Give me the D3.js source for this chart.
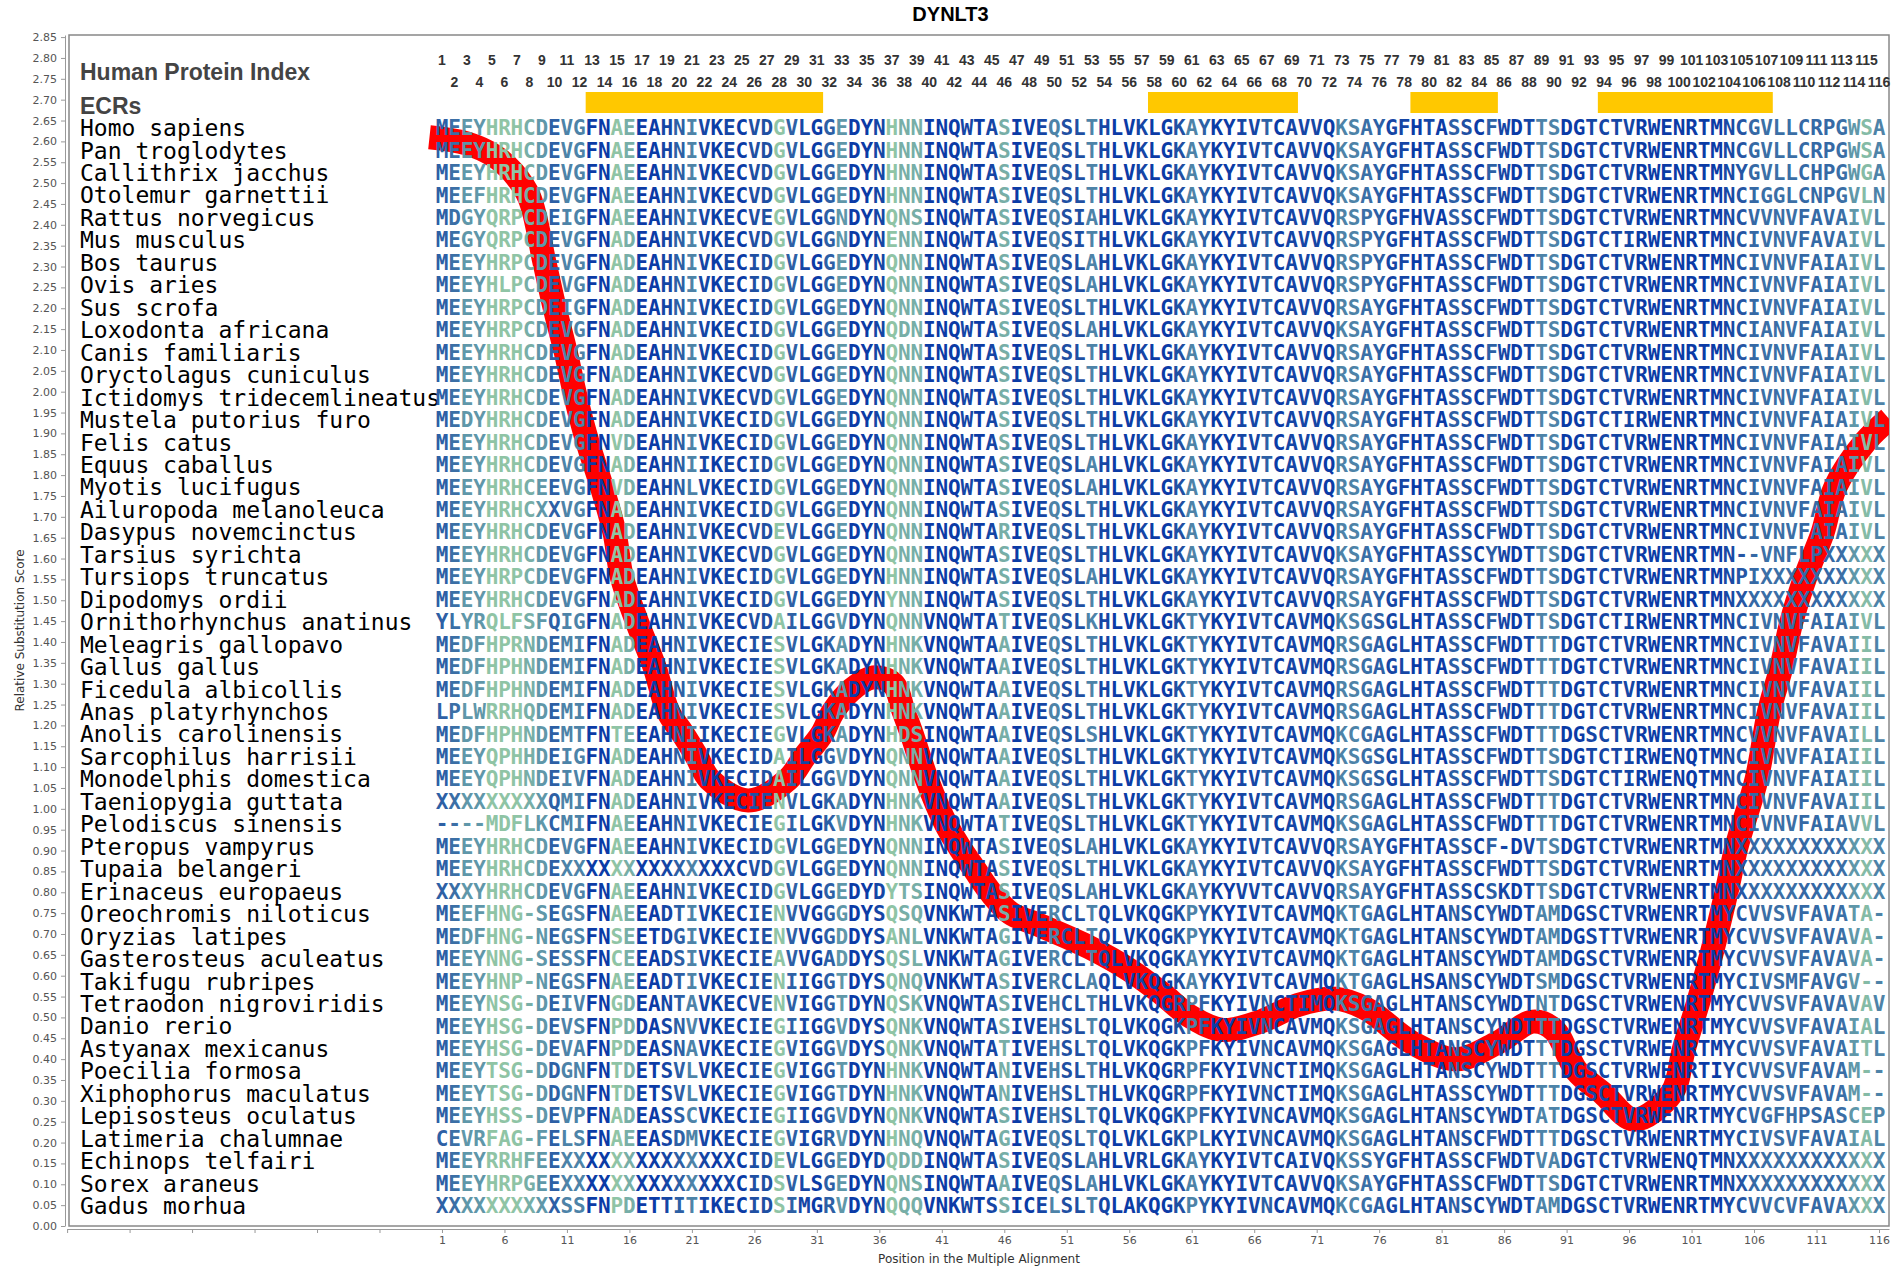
<!DOCTYPE html>
<html>
<head>
<meta charset="utf-8">
<script src="https://cdn.jsdelivr.net/npm/d3@7"></script>
<style>
  body { margin: 0; background: #fff; }
</style>
</head>
<body>
<svg id="chart"></svg>
<script>
// Species (rows, top to bottom)
const species = [
  "Homo sapiens", "Pan troglodytes", "Callithrix jacchus", "Otolemur garnettii",
  "Rattus norvegicus", "Mus musculus", "Bos taurus", "Ovis aries", "Sus scrofa",
  "Loxodonta africana", "Canis familiaris", "Oryctolagus cuniculus",
  "Ictidomys tridecemlineatus", "Mustela putorius furo", "Felis catus",
  "Equus caballus", "Myotis lucifugus", "Ailuropoda melanoleuca",
  "Dasypus novemcinctus", "Tarsius syrichta", "Tursiops truncatus",
  "Dipodomys ordii", "Ornithorhynchus anatinus", "Meleagris gallopavo",
  "Gallus gallus", "Ficedula albicollis", "Anas platyrhynchos",
  "Anolis carolinensis", "Sarcophilus harrisii", "Monodelphis domestica",
  "Taeniopygia guttata", "Pelodiscus sinensis", "Pteropus vampyrus",
  "Tupaia belangeri", "Erinaceus europaeus", "Oreochromis niloticus",
  "Oryzias latipes", "Gasterosteus aculeatus", "Takifugu rubripes",
  "Tetraodon nigroviridis", "Danio rerio", "Astyanax mexicanus",
  "Poecilia formosa", "Xiphophorus maculatus", "Lepisosteus oculatus",
  "Latimeria chalumnae", "Echinops telfairi", "Sorex araneus", "Gadus morhua"
];

// Aligned sequences, 116 columns each
const sequences = [
  "MEEYHRHCDEVGFNAEEAHNIVKECVDGVLGGEDYNHNNINQWTASIVEQSLTHLVKLGKAYKYIVTCAVVQKSAYGFHTASSCFWDTTSDGTCTVRWENRTMNCGVLLCRPGWSA",
  "MEEYHRHCDEVGFNAEEAHNIVKECVDGVLGGEDYNHNNINQWTASIVEQSLTHLVKLGKAYKYIVTCAVVQKSAYGFHTASSCFWDTTSDGTCTVRWENRTMNCGVLLCRPGWSA",
  "MEEYHRHCDEVGFNAEEAHNIVKECVDGVLGGEDYNHNNINQWTASIVEQSLTHLVKLGKAYKYIVTCAVVQKSAYGFHTASSCFWDTTSDGTCTVRWENRTMNYGVLLCHPGWGA",
  "MEEFHRHCDEVGFNAEEAHNIVKECVDGVLGGEDYNHNNINQWTASIVEQSLTHLVKLGKAYKYIVTCAVVQKSAYGFHTASSCFWDTTSDGTCTVRWENRTMNCIGGLCNPGVLN",
  "MDGYQRPCDEIGFNAEEAHNIVKECVEGVLGGNDYNQNSINQWTASIVEQSIAHLVKLGKAYKYIVTCAVVQRSPYGFHVASSCFWDTTSDGTCTVRWENRTMNCVVNVFAVAIVL",
  "MEGYQRPCDEVGFNADEAHNIVKECVDGVLGGNDYNENNINQWTASIVEQSITHLVKLGKAYKYIVTCAVVQRSPYGFHTASSCFWDTTSDGTCTIRWENRTMNCIVNVFAVAIVL",
  "MEEYHRPCDEVGFNADEAHNIVKECIDGVLGGEDYNQNNINQWTASIVEQSLAHLVKLGKAYKYIVTCAVVQRSPYGFHTASSCFWDTTSDGTCTVRWENRTMNCIVNVFAIAIVL",
  "MEEYHLPCDEVGFNADEAHNIVKECIDGVLGGEDYNQNNINQWTASIVEQSLAHLVKLGKAYKYIVTCAVVQRSPYGFHTASSCFWDTTSDGTCTVRWENRTMNCIVNVFAIAIVL",
  "MEEYHRPCDEIGFNADEAHNIVKECIDGVLGGEDYNQNNINQWTASIVEQSLTHLVKLGKAYKYIVTCAVVQRSAYGFHTASSCFWDTTSDGTCTVRWENRTMNCIVNVFAIAIVL",
  "MEEYHRPCDEVGFNADEAHNIVKECIDGVLGGEDYNQDNINQWTASIVEQSLAHLVKLGKAYKYIVTCAVVQKSAYGFHTASSCFWDTTSDGTCTVRWENRTMNCIANVFAIAIVL",
  "MEEYHRHCDEVGFNADEAHNIVKECIDGVLGGEDYNQNNINQWTASIVEQSLTHLVKLGKAYKYIVTCAVVQRSAYGFHTASSCFWDTTSDGTCTVRWENRTMNCIVNVFAIAIVL",
  "MEEYHRHCDEVGFNADEAHNIVKECVDGVLGGEDYNQNNINQWTASIVEQSLTHLVKLGKAYKYIVTCAVVQRSAYGFHTASSCFWDTTSDGTCTVRWENRTMNCIVNVFAIAIVL",
  "MEEYHRHCDEVGFNADEAHNIVKECVDGVLGGEDYNQNNINQWTASIVEQSLTHLVKLGKAYKYIVTCAVVQRSAYGFHTASSCFWDTTSDGTCTVRWENRTMNCIVNVFAIAIVL",
  "MEDYHRHCDEVGFNADEAHNIVKECIDGVLGGEDYNQNNINQWTASIVEQSLTHLVKLGKAYKYIVTCAVVQRSAYGFHTASSCFWDTTSDGTCTIRWENRTMNCIVNVFAIAIVL",
  "MEEYHRHCDEVGFNVDEAHNIVKECIDGVLGGEDYNQNNINQWTASIVEQSLTHLVKLGKAYKYIVTCAVVQRSAYGFHTASSCFWDTTSDGTCTVRWENRTMNCIVNVFAIAIVL",
  "MEEYHRHCDEVGFNADEAHNIIKECIDGVLGGEDYNQNNINQWTASIVEQSLAHLVKLGKAYKYIVTCAVVQRSAYGFHTASSCFWDTTSDGTCTVRWENRTMNCIVNVFAIAIVL",
  "MEEYHRHCEEVGFNVDEAHNLVKECIDGVLGGEDYNQNNINQWTASIVEQSLAHLVKLGKAYKYIVTCAVVQRSAYGFHTASSCFWDTTSDGTCTVRWENRTMNCIVNVFAIAIVL",
  "MEEYHRHCXXVGFNADEAHNIVKECIDGVLGGEDYNQNNINQWTASIVEQSLTHLVKLGKAYKYIVTCAVVQRSAYGFHTASSCFWDTTSDGTCTVRWENRTMNCIVNVFAIAIVL",
  "MEEYHRHCDEVGFNADEAHNIVKECVDEVLGGEDYNQNNINQWTARIVEQSLTHLVKLGKAYKYIVTCAVVQRSAYGFHTASSCFWDTTSDGTCTVRWENRTMNCIVNVFAIAIVL",
  "MEEYHRHCDEVGFNADEAHNIVKECVDGVLGGEDYNQNNINQWTASIVEQSLTHLVKLGKAYKYIVTCAVVQKSAYGFHTASSCYWDTTSDGTCTVRWENRTMN--VNFLPXXXXX",
  "MEEYHRPCDEVGFNADEAHNIVKECIDGVLGGEDYNHNNINQWTASIVEQSLAHLVKLGKAYKYIVTCAVVQRSAYGFHTASSCFWDTTSDGTCTVRWENRTMNPIXXXXXXXXXX",
  "MEEYHRHCDEVGFNADEAHNIVKECIDGVLGGEDYNYNNINQWTASIVEQSLTHLVKLGKAYKYIVTCAVVQRSAYGFHTASSCFWDTTSDGTCTVRWENRTMNXXXXXXXXXXXX",
  "YLYRQLFSFQIGFNADEAHNIVKECVDAILGGVDYNQNNVNQWTATIVEQSLKHLVKLGKTYKYIVTCAVMQKSGSGLHTASSCFWDTTSDGTCTIRWENRTMNCIVNVFAIAIVL",
  "MEDFHPRNDEMIFNADEAHNIVKECIESVLGKADYNHNKVNQWTAAIVEQSLTHLVKLGKTYKYIVTCAVMQRSGAGLHTASSCFWDTTTDGTCTVRWENRTMNCIVNVFAVAIIL",
  "MEDFHPHNDEMIFNADEAHNIVKECIESVLGKADYNHNKVNQWTAAIVEQSLTHLVKLGKTYKYIVTCAVMQRSGAGLHTASSCFWDTTTDGTCTVRWENRTMNCIVNVFAVAIIL",
  "MEDFHPHNDEMIFNADEAHNIVKECIESVLGKADYNHNKVNQWTAAIVEQSLTHLVKLGKTYKYIVTCAVMQRSGAGLHTASSCFWDTTTDGTCTVRWENRTMNCIVNVFAVAIIL",
  "LPLWRRHQDEMIFNADEAHNIVKECIESVLGKADYNHNKVNQWTAAIVEQSLTHLVKLGKTYKYIVTCAVMQRSGAGLHTASSCFWDTTTDGTCTVRWENRTMNCIVNVFAVAIIL",
  "MEDFHPHNDEMTFNTEEAHNIIKECIEGVLGKADYNHDSINQWTAAIVEQSLSHLVKLGKTYKYIVTCAVMQKCGAGLHTASSCFWDTTTDGSCTVRWENRTMNCVVNVFAVAILL",
  "MEEYQPHHDEIGFNADEAHNIVKECIDAILGGVDYNQNNVNQWTAAIVEQSLTHLVKLGKTYKYIVTCAVMQKSGSGLHTASSCFWDTTSDGTCTIRWENQTMNCIVNVFAIAIIL",
  "MEEYQPHNDEIVFNADEAHNIVKECIDAILGGVDYNQNNVNQWTAAIVEQSLTHLVKLGKTYKYIVTCAVMQKSGSGLHTASSCFWDTTSDGTCTIRWENQTMNCIVNVFAIAIIL",
  "XXXXXXXXXQMIFNADEAHNIVKECIENVLGKADYNHNKVNQWTAAIVEQSLTHLVKLGKTYKYIVTCAVMQRSGAGLHTASSCFWDTTTDGTCTVRWENRTMNCIVNVFAVAIIL",
  "----MDFLKCMIFNAEEAHNIVKECIEGILGKVDYNHNKVNQWTATIVEQSLTHLVKLGKTYKYIVTCAVMQKSGAGLHTASSCFWDTTTDGTCTVRWENRTMNCIVNVFAIAVVL",
  "MEEYHRHCDEVGFNAEEAHNIVKECIDGVLGGEDYNQNNINQWTASIVEQSLAHLVKLGKAYKYIVTCAVVQRSAYGFHTASSCF-DVTSDGTCTVRWENRTMNXXXXXXXXXXXX",
  "MEEYHRHCDEXXXXXXXXXXXXXXCVDGVLGGEDYNQNNINQWTASIVEQSLTHLVKLGKAYKYIVTCAVVQKSAYGFHTASSCFWDTTSDGTCTVRWENRTMNXXXXXXXXXXXX",
  "XXXYHRHCDEVGFNAEEAHNIVKECIDGVLGGEDYDYTSINQWTASIVEQSLAHLVKLGKAYKYVVTCAVVQRSAYGFHTASSCSKDTTSDGTCTVRWENRTMNXXXXXXXXXXXX",
  "MEEFHNG-SEGSFNAEEADTIVKECIENVVGGGDYSQSQVNKWTASIVERCLTQLVKQGKPYKYIVTCAVMQKTGAGLHTANSCYWDTAMDGSCTVRWENRTMYCVVSVFAVATA-",
  "MEDFHNG-NEGSFNSEETDGIVKECIENVVGGDDYSANLVNKWTAGIVERCLTQLVKQGKPYKYIVTCAVMQKTGAGLHTANSCYWDTAMDGSTTVRWENRTMYCVVSVFAVAVA-",
  "MEEYNNG-SESSFNCEEADSIVKECIEAVVGADDYSQSLVNKWTAGIVERCLTQLVKQGKAYKYIVTCAVMQKTGAGLHTANSCYWDTAMDGSCTVRWENRTMYCVVSVFAVAVA-",
  "MEEYHNP-NEGSFNAEEADTIVKECIENIIGGTDYSQNQVNKWTASIVERCLAQLVKQGKAYKYIVTCAVMQKTGAGLHSANSCYWDTSMDGSCTVRWENRTMYCIVSMFAVGV--",
  "MEEYNSG-DEIVFNGDEANTAVKECVENVIGGTDYNQSKVNQWTASIVEHCLTHLVKQGRPFKYIVNCTIMQKSGAGLHTANSCYWDTNTDGSCTVRWENRTMYCVVSVFAVAVAV",
  "MEEYHSG-DEVSFNPDDASNVVKECIEGIIGGVDYSQNKVNQWTASIVEHSLTQLVKQGKPFKYIVNCAVMQKSGAGLHTANSCYWDTTTDGSCTVRWENRTMYCVVSVFAVAIAL",
  "MEEYHSG-DEVAFNPDEASNAVKECIEGVIGGVDYSQNKVNQWTATIVEHSLTQLVKQGKPFKYIVNCAVMQKSGAGLHTANSCYWDTTTDGSCTVRWENRTMYCVVSVFAVAITL",
  "MEEYTSG-DDGNFNTDETSVLVKECIEGVIGGTDYNHNKVNQWTANIVEHSLTHLVKQGRPFKYIVNCTIMQKSGAGLHTANSCYWDTTTDGSCTVRWENRTIYCVVSVFAVAM--",
  "MEEYTSG-DDGNFNTDETSVLVKECIEGVIGGTDYNHNKVNQWTANIVEHSLTHLVKQGRPFKYIVNCTIMQKSGAGLHTASSCYWDTTTDGSCTVRWENRTMYCVVSVFAVAM--",
  "MEEYHSS-DEVPFNADEASSCVKECIEGIIGGVDYNQNKVNQWTASIVEHSLTQLVKQGKPFKYIVNCAVMQKSGAGLHTANSCYWDTATDGSCTVRWENRTMYCVGFHPSASCEP",
  "CEVRFAG-FELSFNAEEASDMVKECIEGVIGRVDYNHNQVNQWTAGIVEQSLTQLVKLGKPLKYIVNCAVMQKSGAGLHTANSCFWDTTTDGSCTVRWENRTMYCIVSVFAVAIAL",
  "MEEYRRHFEEXXXXXXXXXXXXXXCIDEVLGGEDYDQDDINQWTASIVEQSLAHLVRLGKAYKYIVTCAIVQKSSYGFHTASSCFWDTVADGTCTVRWENQTMNXXXXXXXXXXXX",
  "MEEYHRPGEEXXXXXXXXXXXXXXCIDSVLSGEDYNQNSINQWTAAIVEQSLAHLVKLGKAYKYIVTCAVVQKSAYGFHTASSCFWDTTSDGTCTVRWENRTMNXXXXXXXXXXXX",
  "XXXXXXXXXXSSFNPDETTITIKECIDSIMGRVDYNQQQVNKWTSSICELSLTQLAKQGKPYKYIVNCAVMQKCGAGLHTANSCYWDTAMDGSCTVRWENRTMYCVVCVFAVAXXX"
];

// Column conservation shade (0 = most conserved ... 4 = least), columns 1..116
const conservation = [
  1.5, 2, 3, 3, 4, 4, 4, 3.5, 3, 1.5,
  2.5, 2.5, 0, 0, 4, 3.5, 0, 0, 0.5, 1.5,
  2.5, 0.5, 0, 0.5, 0, 1, 1, 4, 1.5, 0.5,
  0, 1.5, 3, 0, 0, 0.5, 4, 3.5, 3.5, 0,
  0, 0, 0.5, 0, 0.5, 3.5, 0, 0, 0.5, 2.5,
  1, 1, 2.5, 0.5, 0, 0, 0.5, 0, 0, 1,
  2.5, 1.5, 0, 0, 0.5, 0.5, 1.5, 0, 0.5, 0.5,
  0.5, 0, 2.5, 2.5, 2, 1.5, 0.5, 0.5, 0, 0.5,
  0, 1.5, 1, 0, 1.5, 0.5, 0, 0.5, 2.5, 2.5,
  0, 0, 0.5, 0.5, 0.5, 0.5, 0, 0, 0, 0,
  0, 0, 0, 0.7, 1.2, 1.8, 2, 2, 2, 1.8,
  1.8, 1.8, 2, 3, 3.8, 2.5
];

// Evolutionarily conserved regions [first, last] position
const ecrStart = [13, 58, 79, 94];
const ecrEnd = [31, 69, 85, 107];

// Relative substitution score curve (alignment position, score)
const scorePos = [0, 3, 5.2, 6.7, 8.0, 9.2, 10.0, 10.9, 11.7, 12.65, 13.8, 14.8, 15.4, 16.6, 18.0, 19.1,
  20.3, 21.4, 22.4, 25.5, 28.7, 30.0, 31.4, 32.3, 33.8, 35.5, 37.1, 37.95, 38.6, 39.8, 41.3, 42.4,
  43.6, 44.9, 46.5, 48.9, 52.8, 56, 58.5, 61.0, 63.5, 66.5, 69.5, 72.5, 75, 78.6, 82.2, 85.5,
  88.3, 90, 91.8, 93.9, 96.4, 99.4, 100.4, 101.5, 102.5, 103.8, 104.6, 106.2, 107.2, 108.2,
  109.0, 110.1, 111.5, 112.5, 114.9, 116.8];
const scoreVal = [2.61, 2.595, 2.565, 2.525, 2.465, 2.31, 2.203, 2.095, 1.987, 1.879, 1.771, 1.663, 1.555, 1.449, 1.341, 1.233,
  1.179, 1.125, 1.071, 1.02, 1.071, 1.125, 1.179, 1.233, 1.286, 1.315, 1.30, 1.233, 1.179, 1.071, 0.965, 0.909,
  0.856, 0.80, 0.75, 0.72, 0.668, 0.614, 0.56, 0.5, 0.47, 0.49, 0.53, 0.545, 0.52, 0.44, 0.40, 0.44,
  0.49, 0.47, 0.372, 0.318, 0.255, 0.318, 0.426, 0.533, 0.641, 0.801, 0.909, 1.071, 1.233, 1.341,
  1.449, 1.555, 1.663, 1.771, 1.88, 1.935];

const W = 1901, H = 1275;
const plot = { left: 69, right: 1889, top: 35, bottom: 1226 };

const svg = d3.select("#chart").attr("width", W).attr("height", H);

const x = d3.scaleLinear().domain([-29, 116.8]).range([67.1, plot.right]);
const y = d3.scaleLinear().domain([0, 2.855]).range([plot.bottom, plot.top]);
const row = d3.scalePoint().domain(species).range([127.6, 1205.6]);
const shade = d3.scaleLinear()
  .domain([0, 1, 2, 3, 4])
  .range(["#0b3ba6", "#1f50a3", "#3b6fa6", "#5f97a9", "#8fc4a5"]);

const sans = "'Liberation Sans', Arial, sans-serif";
const dejavu = "'DejaVu Sans', sans-serif";
const mono = "'DejaVu Sans Mono', monospace";

// title
svg.append("text")
  .attr("x", W / 2).attr("y", 21)
  .attr("text-anchor", "middle")
  .attr("font-family", sans).attr("font-weight", "bold").attr("font-size", 20)
  .text("DYNLT3");

// plot frame
svg.append("rect")
  .attr("x", plot.left).attr("y", plot.top)
  .attr("width", plot.right - plot.left).attr("height", plot.bottom - plot.top)
  .attr("fill", "none").attr("stroke", "#888").attr("stroke-width", 1.5);

svg.append("clipPath").attr("id", "plotClip")
  .append("rect")
  .attr("x", plot.left).attr("y", plot.top)
  .attr("width", plot.right - plot.left).attr("height", plot.bottom - plot.top);

// y axis
const yAxis = d3.axisLeft(y)
  .tickValues(d3.range(0, 58).map(i => i * 0.05))
  .tickFormat(d3.format(".2f"))
  .tickSize(4).tickSizeOuter(0).tickPadding(4);
const gy = svg.append("g").attr("transform", "translate(65,0)").call(yAxis);

// x axis
const xAxis = d3.axisBottom(x)
  .tickValues(d3.range(-29, 117, 5))
  .tickFormat(d => d >= 1 ? d : "")
  .tickSize(4).tickSizeOuter(0).tickPadding(3);
const gx = svg.append("g").attr("transform", "translate(0,1229)").call(xAxis);

[gx, gy].forEach(g => {
  g.selectAll("path, line").attr("stroke", "#999");
  g.selectAll("text").attr("font-family", dejavu).attr("font-size", 11).attr("fill", "#555");
});

svg.append("text")
  .attr("x", (plot.left + plot.right) / 2).attr("y", 1263)
  .attr("text-anchor", "middle")
  .attr("font-family", dejavu).attr("font-size", 12).attr("fill", "#333")
  .text("Position in the Multiple Alignment");

svg.append("text")
  .attr("transform", `translate(24,${(plot.top + plot.bottom) / 2}) rotate(-90)`)
  .attr("text-anchor", "middle")
  .attr("font-family", dejavu).attr("font-size", 12).attr("fill", "#333")
  .text("Relative Substitution Score");

// substitution score curve (drawn under the letters)
const line = d3.line()
  .x((d, i) => x(scorePos[i]))
  .y(d => y(d))
  .curve(d3.curveCatmullRom.alpha(0.5));

svg.append("path")
  .attr("clip-path", "url(#plotClip)")
  .attr("d", line(scoreVal))
  .attr("fill", "none")
  .attr("stroke", "#ff0000")
  .attr("stroke-width", 24)
  .attr("stroke-linejoin", "round");

// header
svg.append("text")
  .attr("x", 80).attr("y", 80)
  .attr("font-family", sans).attr("font-weight", "bold").attr("font-size", 23).attr("fill", "#444")
  .text("Human Protein Index");
svg.append("text")
  .attr("x", 80).attr("y", 114)
  .attr("font-family", sans).attr("font-weight", "bold").attr("font-size", 23).attr("fill", "#444")
  .text("ECRs");

const positions = d3.range(1, 117);
svg.append("g").selectAll("text")
  .data(positions)
  .join("text")
  .attr("x", d => x(d))
  .attr("y", d => d % 2 ? 65 : 87)
  .attr("text-anchor", "middle")
  .attr("font-family", sans).attr("font-weight", "bold").attr("font-size", 14).attr("fill", "#333")
  .text(d => d);

svg.append("g").selectAll("rect")
  .data(ecrStart)
  .join("rect")
  .attr("x", d => x(d - 0.5))
  .attr("width", (d, i) => x(ecrEnd[i] + 0.5) - x(d - 0.5))
  .attr("y", 92).attr("height", 21)
  .attr("fill", "#ffc800");

// species names
svg.append("g").selectAll("text")
  .data(species)
  .join("text")
  .attr("x", 80)
  .attr("y", d => row(d) + 8.5)
  .attr("font-family", mono).attr("font-size", 23).attr("fill", "#000")
  .attr("xml:space", "preserve")
  .text(d => d);

// alignment letters
const rows = svg.append("g")
  .attr("font-family", mono).attr("font-weight", "bold").attr("font-size", 21)
  .attr("text-anchor", "middle")
  .selectAll("g")
  .data(species)
  .join("g")
  .attr("transform", d => `translate(0,${row(d) + 7.6})`);

rows.selectAll("text")
  .data((d, i) => sequences[i].split(""))
  .join("text")
  .attr("x", (c, j) => x(j + 1))
  .attr("fill", (c, j) => shade(conservation[j]))
  .text(c => c);
</script>
</body>
</html>
